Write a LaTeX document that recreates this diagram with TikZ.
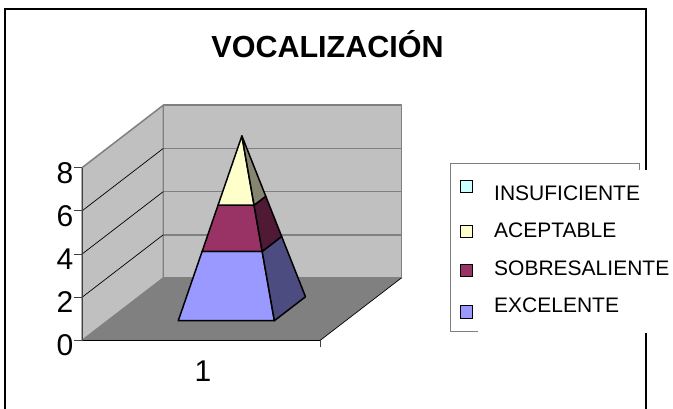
\documentclass[tikz,border=0pt]{standalone}
\usepackage{fontspec}
\setmainfont{Liberation Sans}
\usetikzlibrary{calc}
\definecolor{wallgray}{HTML}{C0C0C0}
\definecolor{floorgray}{HTML}{808080}
\definecolor{insuf}{HTML}{CCFFFF}
\definecolor{acept}{HTML}{FFFFCC}
\definecolor{sobre}{HTML}{993366}
\definecolor{excel}{HTML}{9999FF}
\definecolor{aceptside}{RGB}{134,134,112}
\definecolor{sobreside}{RGB}{80,26,54}
\definecolor{excelside}{RGB}{76,76,128}
\tikzset{
    frame/.style={line width=2.2pt},
    wall/.style={fill=wallgray, draw=floorgray, line width=1.5pt, line join=round},
    backgrid/.style={draw=floorgray, line width=1.5pt},
    sidegrid/.style={draw=black, line width=0.7pt},
    axisline/.style={draw=black!75, line width=1pt},
    slab/.style={draw=black, line width=1.5pt, line join=round},
    titletext/.style={font=\bfseries\fontsize{30.5}{36}\selectfont, inner sep=0pt},
    valtext/.style={font=\fontsize{30}{36}\selectfont, inner sep=0pt},
    keybox/.style={draw=black, line width=1.3pt, minimum size=12.5pt, inner sep=0pt},
    keytext/.style={font=\fontsize{21}{25}\selectfont, inner sep=0pt},
    legendbox/.style={draw=floorgray, line width=0.8pt}
}

\begin{document}
\begin{tikzpicture}[x=1pt, y=-1pt]
    \useasboundingbox (0,0) rectangle (673,408);
    \draw[frame] (5,412) -- (5,9) -- (646,9) -- (646,412);
    \node[titletext, anchor=base] (title) at (327.5,57) {VOCALIZACIÓN};

    % chart box: (columns, value, depth)
    \begin{scope}[shift={(82,340.5)}, x={(1pt,0pt)}, y={(0pt,21.6pt)}, z={(81.3pt,62.5pt)}]
        \fill[floorgray] (0,0,0) -- (238,0,0) -- (238,0,1) -- (0,0,1) -- cycle;
        \filldraw[wall] (0,0,0) -- (0,0,1) -- (0,8,1) -- (0,8,0) -- cycle;
        \filldraw[wall] (0,0,1) -- (238,0,1) -- (238,8,1) -- (0,8,1) -- cycle;
        \foreach \v in {2,4,6} {
            \draw[backgrid] (0,\v,1) -- (238,\v,1);
            \draw[sidegrid] (0,\v,0) -- (0,\v,1);
        }
        \draw[sidegrid] (0,0,0) -- (238,0,0) -- (238,0,1);
        \draw[axisline] (0,0,0) -- (0,8,0);
        \foreach \v in {0,2,4,6,8} {
            \draw[axisline] (0,\v,0) -- ++(-8pt,0pt);
            \node[valtext, anchor=east] (y\v) at ($(0,\v,0)+(-8.5pt,-5pt)$) {\v};
        }
        \draw[axisline] (238,0,0) -- ++(0pt,-6pt);
        \node[valtext] (x1) at ($(121,0,0)+(0pt,-30.5pt)$) {1};

        % pyramid
        \coordinate (fl0) at (70.5,0,0.317);
        \coordinate (fr0) at (166.6,0,0.317);
        \coordinate (br0) at (166.6,0,0.70);
        \coordinate (apex) at (118.55,8,0.5085);
        \foreach \c in {fl,fr,br} {
            \coordinate (\c3) at ($(\c0)!0.375!(apex)$);
            \coordinate (\c5) at ($(\c0)!0.625!(apex)$);
        }
        \filldraw[slab, fill=excel] (fl0) -- (fr0) -- (fr3) -- (fl3) -- cycle;
        \filldraw[slab, fill=excelside] (fr0) -- (br0) -- (br3) -- (fr3) -- cycle;
        \filldraw[slab, fill=sobre] (fl3) -- (fr3) -- (fr5) -- (fl5) -- cycle;
        \filldraw[slab, fill=sobreside] (fr3) -- (br3) -- (br5) -- (fr5) -- cycle;
        \filldraw[slab, fill=acept] (fl5) -- (fr5) -- (apex) -- cycle;
        \filldraw[slab, fill=aceptside] (fr5) -- (br5) -- (apex) -- cycle;
    \end{scope}

    % legend
    \draw[legendbox] (450,163) rectangle (639,331);
    \fill[white] (478,170) rectangle (673,333);
    \foreach \name/\col/\my/\ty [count=\i] in {INSUFICIENTE/insuf/186.5/200, ACEPTABLE/acept/231.5/237, SOBRESALIENTE/sobre/270.5/275, EXCELENTE/excel/312/312} {
        \node[keybox, fill=\col] (key\i) at (466.5,\my) {};
        \node[keytext, anchor=base west] (lab\i) at (494,\ty) {\name};
    }
\end{tikzpicture}
\end{document}
